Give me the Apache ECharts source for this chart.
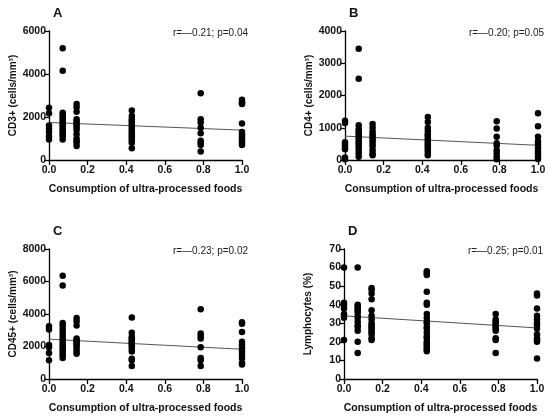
<!DOCTYPE html>
<html>
<head>
<meta charset="utf-8">
<script src="https://cdn.jsdelivr.net/npm/echarts@6/dist/echarts.min.js"></script>
<style>
html,body{margin:0;padding:0;background:#fff;}
#chart{width:550px;height:420px;}
</style>
</head>
<body>
<div id="chart"></div>
<script>
// consumption levels (x), same for every panel
var xLevels = [0, 0.071, 0.143, 0.429, 0.786, 1.0];

// A: CD3+ cells/mm3, one list per consumption level
var cd3Values = [
    [2430, 2170, 1600, 1450, 1300, 1100, 950],
    [5200, 4150, 2200, 2100, 2000, 1900, 1800, 1700, 1600, 1500, 1400, 1300, 1200, 1100, 950],
    [2600, 2450, 2250, 1900, 1800, 1700, 1600, 1500, 1400, 1200, 1000, 900, 800, 650],
    [2300, 2050, 1900, 1800, 1700, 1600, 1500, 1400, 1300, 1200, 1100, 1000, 900, 800, 550],
    [3100, 1900, 1750, 1500, 1250, 900, 800, 700, 400],
    [2800, 2700, 2650, 2600, 1700, 1300, 1200, 1100, 1000, 900, 800, 700]
];
// B: CD4+
var cd4Values = [
    [1220, 1150, 550, 480, 400, 330, 80, 20],
    [3450, 2520, 1080, 950, 880, 820, 750, 700, 620, 550, 480, 400, 300, 200, 100],
    [1120, 1000, 880, 800, 720, 650, 580, 500, 420, 300, 200, 150],
    [1330, 1180, 1000, 900, 800, 750, 680, 620, 560, 500, 450, 380, 300, 220, 150],
    [1200, 980, 720, 520, 450, 300, 200, 100, 20],
    [1450, 1050, 720, 580, 480, 380, 280, 200, 100, 30]
];
// C: CD45+
var cd45Values = [
    [3250, 3050, 2100, 1950, 1600, 1150],
    [6350, 5750, 3450, 3300, 3100, 2900, 2700, 2500, 2350, 2200, 2050, 1900, 1750, 1600, 1450, 1300],
    [3750, 3550, 3300, 2500, 2400, 2300, 2200, 2100, 2000, 1850, 1700, 1550],
    [3780, 2850, 2600, 2500, 2400, 2300, 2200, 2100, 2000, 1850, 1700, 1250, 1150, 800],
    [4300, 2800, 2650, 2500, 1950, 1300, 1150, 800],
    [3500, 3400, 2900, 2300, 2100, 1900, 1700, 1500, 1300, 1000, 900]
];
// D: Lymphocytes %
var lymphValues = [
    [60, 41, 40, 38, 35, 34, 33, 21],
    [60, 40, 39, 38, 37, 36, 34, 33, 31, 29, 28, 26, 20, 14],
    [49, 48, 46, 43, 37, 34, 32, 30, 29, 28, 27, 26, 25, 24, 22, 21],
    [58, 57, 56, 47, 41, 40, 35, 33, 31, 30, 28, 27, 25, 23, 22, 20, 19, 18, 17, 16, 15],
    [35, 32, 31, 30, 29, 28, 27, 26, 22, 21, 14],
    [46, 45, 38, 34, 32, 30, 29, 27, 24, 22, 21, 20, 11]
];

// regression line values at x=0 and x=1
var fitX = [0, 1];
var cd3Fit = [1745, 1390];
var cd4Fit = [740, 455];
var cd45Fit = [2450, 1830];
var lymphFit = [34, 27.5];

var letters = ['A', 'B', 'C', 'D'];
var stats = ['r=\u20140.21; p=0.04', 'r=\u20140.20; p=0.05', 'r=\u20140.23; p=0.02', 'r=\u20140.25; p=0.01'];
var yNames = ['CD3+ (cells/mm\u00b3)', 'CD4+ (cells/mm\u00b3)', 'CD45+ (cells/mm\u00b3)', 'Lymphocytes (%)'];
var yMax = [6000, 4000, 8000, 70];
var yStep = [2000, 1000, 2000, 10];
var xName = 'Consumption of ultra-processed foods';

var allValues = [cd3Values, cd4Values, cd45Values, lymphValues];
var allFits = [cd3Fit, cd4Fit, cd45Fit, lymphFit];

var grids = [
    {left: 49, top: 31, width: 193, height: 129},
    {left: 345, top: 31, width: 193, height: 129},
    {left: 49, top: 249, width: 193, height: 130},
    {left: 344, top: 249, width: 193, height: 130}
];

var font = 'Liberation Sans, Arial, sans-serif';

function toPoints(groups){
    var pts = [];
    for (let i = 0; i < groups.length; i++) {
        for (let j = 0; j < groups[i].length; j++) {
            pts.push([xLevels[i], groups[i][j]]);
        }
    }
    return pts;
}

var xAxes = [], yAxes = [], series = [], titles = [];
for (let k = 0; k < 4; k++) {
    xAxes.push({
        gridIndex: k, type: 'value', min: 0, max: 1, interval: 0.2,
        name: xName, nameLocation: 'middle', nameGap: 24,
        nameTextStyle: {fontFamily: font, fontWeight: 'bold', fontSize: 10.5, color: '#111'},
        axisLine: {onZero: false, lineStyle: {color: '#000', width: 1.3}},
        axisTick: {show: true, length: 5, lineStyle: {color: '#000', width: 1.3}},
        axisLabel: {margin: 5, fontFamily: font, fontWeight: 'bold', fontSize: 10.5, color: '#111',
            formatter: function(v){ return v.toFixed(1); }},
        splitLine: {show: false}
    });
    yAxes.push({
        gridIndex: k, type: 'value', min: 0, max: yMax[k], interval: yStep[k],
        name: yNames[k], nameLocation: 'middle', nameGap: 31,
        nameTextStyle: {fontFamily: font, fontWeight: 'bold', fontSize: 10, color: '#111'},
        axisLine: {show: true, lineStyle: {color: '#000', width: 1.3}},
        axisTick: {show: true, length: 5, lineStyle: {color: '#000', width: 1.3}},
        axisLabel: {margin: 3, fontFamily: font, fontWeight: 'bold', fontSize: 10.5, color: '#111',
            formatter: function(v){ return String(v); }},
        splitLine: {show: false}
    });
    series.push({
        type: 'line', xAxisIndex: k, yAxisIndex: k,
        data: [[fitX[0], allFits[k][0]], [fitX[1], allFits[k][1]]],
        symbol: 'none', lineStyle: {color: '#555', width: 1}, z: 1, silent: true
    });
    series.push({
        type: 'scatter', xAxisIndex: k, yAxisIndex: k,
        data: toPoints(allValues[k]), symbolSize: 6.5, clip: false,
        itemStyle: {color: '#000', opacity: 1}, z: 2
    });
    var g = grids[k];
    titles.push({
        text: letters[k], left: g.left + 4, top: g.top - 24, padding: 0,
        textStyle: {fontFamily: font, fontWeight: 'bold', fontSize: 13, color: '#111'}
    });
    titles.push({
        text: stats[k], right: 550 - (g.left + g.width + 6), top: g.top - 3, padding: 0,
        textStyle: {fontFamily: font, fontWeight: 'normal', fontSize: 10, color: '#222'}
    });
}

var myChart = echarts.init(document.getElementById('chart'));
myChart.setOption({
    backgroundColor: '#fff',
    animation: false,
    title: titles,
    grid: grids,
    xAxis: xAxes,
    yAxis: yAxes,
    series: series
});
</script>
</body>
</html>
